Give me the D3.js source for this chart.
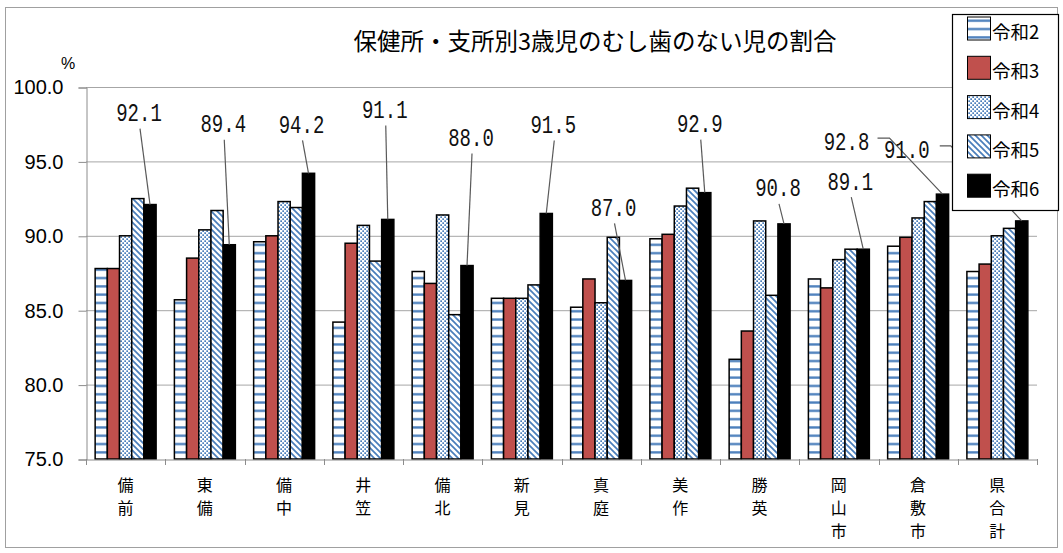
<!DOCTYPE html>
<html><head><meta charset="utf-8">
<script src="https://cdn.jsdelivr.net/npm/d3@7"></script>
<style>body{margin:0;background:#fff}svg{display:block}</style>
</head><body>
<svg id="chart" width="1063" height="553"></svg>
<script>
const categories = ["備前","東備","備中","井笠","備北","新見","真庭","美作","勝英","岡山市","倉敷市","県合計"];
const seriesNames = ["令和2","令和3","令和4","令和5","令和6"];
const r2 = [87.8,85.7,89.6,84.2,87.6,85.8,85.2,89.8,81.7,87.1,89.3,87.6];
const r3 = [87.8,88.5,90.0,89.5,86.8,85.8,87.1,90.1,83.6,86.5,89.9,88.1];
const r4 = [90.0,90.4,92.3,90.7,91.4,85.8,85.5,92.0,91.0,88.4,91.2,90.0];
const r5 = [92.5,91.7,91.9,88.3,84.7,86.7,89.9,93.2,86.0,89.1,92.3,90.5];
const r6 = [92.1,89.4,94.2,91.1,88.0,91.5,87.0,92.9,90.8,89.1,92.8,91.0];
const yTicks = [75,80,85,90,95,100];
const title = "保健所・支所別3歳児のむし歯のない児の割合";

// label placement (offset of label centre from top of 令和6 bar), layout only
const labelOffsets = [[-11,-93],[-6,-122],[-7,-50],[-3,-111],[4,-129],[7,-90],[-12,-74],[-5,-70],[-6,-37],[-13,-69],[-96,-54],[-115,-73]];

const series = [r2,r3,r4,r5,r6];
const svg = d3.select("#chart");
const blue = "#4a7ebb";

const defs = svg.append("defs");
// horizontal stripes
let p = defs.append("pattern").attr("id","p0").attr("patternUnits","userSpaceOnUse").attr("width",4).attr("height",8.3);
p.append("rect").attr("width",4).attr("height",8.3).attr("fill","#fff");
p.append("rect").attr("y",3).attr("width",4).attr("height",2.3).attr("fill",blue);
// dots
p = defs.append("pattern").attr("id","p2").attr("patternUnits","userSpaceOnUse").attr("width",4).attr("height",4);
p.append("rect").attr("width",4).attr("height",4).attr("fill","#fff");
p.append("rect").attr("x",0.3).attr("y",0.3).attr("width",1.7).attr("height",1.7).attr("fill",blue);
p.append("rect").attr("x",2.3).attr("y",2.3).attr("width",1.7).attr("height",1.7).attr("fill",blue);
// diagonal
p = defs.append("pattern").attr("id","p3").attr("patternUnits","userSpaceOnUse").attr("width",6).attr("height",6);
p.append("rect").attr("width",6).attr("height",6).attr("fill","#fff");
p.append("path").attr("d","M-1,-1L7,7M-4,2L1,7M2,-4L7,1").attr("stroke",blue).attr("stroke-width",1.7);

const fills = ["url(#p0)","#c0504d","url(#p2)","url(#p3)","#000"];

// outer border
svg.append("rect").attr("x",5.5).attr("y",7.5).attr("width",1052).attr("height",540)
  .attr("fill","#fff").attr("stroke","#a0a0a0");

const L=86, R=1037, T=87, B=459;
const x = d3.scaleBand().domain(categories).range([L,R]).padding(0);
const xs = d3.scaleBand().domain(d3.range(5)).range([0,x.bandwidth()]).paddingInner(0).paddingOuter(0.75);
const y = d3.scaleLinear().domain([75,100]).range([B,T]);

// gridlines
svg.append("g").selectAll("line").data(yTicks.slice(1)).join("line")
  .attr("x1",L).attr("x2",R).attr("y1",d=>y(d)+0.5).attr("y2",d=>y(d)+0.5)
  .attr("stroke","#a6a6a6");

// y axis
const yAxis = d3.axisLeft(y).tickValues(yTicks).tickFormat(d3.format(".1f")).tickSize(8).tickPadding(15);
const gy = svg.append("g").attr("transform",`translate(${L+0.5},0.5)`).call(yAxis);
gy.select(".domain").attr("stroke","#8c8c8c");
gy.selectAll(".tick line").attr("stroke","#8c8c8c");
gy.selectAll("text").attr("font-family","'Liberation Sans',Arial,sans-serif").attr("font-size",20).attr("fill","#000");

// bars
const gBars = svg.append("g");
series.forEach((vals,si)=>{
  gBars.append("g").selectAll("rect").data(vals).join("rect")
    .attr("x",(d,i)=>x(categories[i])+xs(si))
    .attr("y",d=>y(d))
    .attr("width",xs.bandwidth())
    .attr("height",d=>B-y(d))
    .attr("fill",fills[si])
    .attr("stroke","#000").attr("stroke-width",1.5);
});

// x axis
const xAxis = d3.axisBottom(x).tickSize(0).tickFormat("");
const gx = svg.append("g").attr("transform",`translate(0,${B+0.5})`).call(xAxis);
gx.select(".domain").attr("stroke","#8c8c8c");
const bounds = categories.map(c=>x(c)).concat([R]);
svg.append("g").selectAll("line").data(bounds).join("line")
  .attr("x1",d=>Math.round(d)+0.5).attr("x2",d=>Math.round(d)+0.5)
  .attr("y1",B).attr("y2",B+6).attr("stroke","#8c8c8c");

// x labels (vertical)
categories.forEach(c=>{
  const t = svg.append("text").attr("font-family","'Noto Sans CJK JP',sans-serif").attr("font-size",16)
    .attr("text-anchor","middle").attr("fill","#000");
  [...c].forEach((ch,k)=>{
    t.append("tspan").attr("x",x(c)+x.bandwidth()/2).attr("y",485+k*23).attr("dy","0.35em").text(ch);
  });
});

// data labels with leader lines for 令和6
const gLab = svg.append("g");
r6.forEach((v,i)=>{
  const bx = x(categories[i])+xs(4)+xs.bandwidth()/2;
  const by = y(v);
  const tx = bx+labelOffsets[i][0], ty = by+labelOffsets[i][1];
  let pts;
  if (i===10) pts = [[tx+31,ty-2],[tx+43,ty-2],[bx,by]];
  else if (i===11) pts = [[tx+33,ty-2],[tx+44,ty-2],[bx,by]];
  else pts = [[tx+1,ty+17],[bx,by]];
  gLab.append("path").attr("d",d3.line()(pts)).attr("fill","none").attr("stroke","#595959").attr("stroke-width",1.2);
  gLab.append("text").attr("transform",`translate(${tx},${ty}) scale(1,1.4)`)
    .attr("text-anchor","middle").attr("dy","0.36em")
    .attr("font-family","'Liberation Mono',monospace").attr("font-size",19).attr("fill","#111")
    .text(d3.format(".1f")(v));
});

// percent sign
svg.append("text").attr("x",68).attr("y",63).attr("dy","0.35em").attr("text-anchor","middle")
  .attr("font-family","'Liberation Sans',Arial,sans-serif").attr("font-size",16).text("%");

// title
svg.append("text").attr("x",595).attr("y",42).attr("dy","0.36em").attr("text-anchor","middle")
  .attr("font-family","'Noto Sans CJK JP',sans-serif").attr("font-size",23.5).attr("fill","#000").text(title);

// legend
const lg = svg.append("g");
lg.append("rect").attr("x",952.5).attr("y",14.5).attr("width",106).attr("height",196)
  .attr("fill","#fff").attr("stroke","#000").attr("stroke-width",1.2);
seriesNames.forEach((n,i)=>{
  const sy = 17+i*39.3;
  lg.append("rect").attr("x",967.5).attr("y",sy).attr("width",23).attr("height",23)
    .attr("fill",fills[i]).attr("stroke","#000").attr("stroke-width",1);
  lg.append("text").attr("x",992).attr("y",sy+11.5+4).attr("dy","0.36em")
    .attr("font-family","'Noto Sans CJK JP',sans-serif").attr("font-size",18.5).attr("fill","#000").text(n);
});
</script>
</body></html>
